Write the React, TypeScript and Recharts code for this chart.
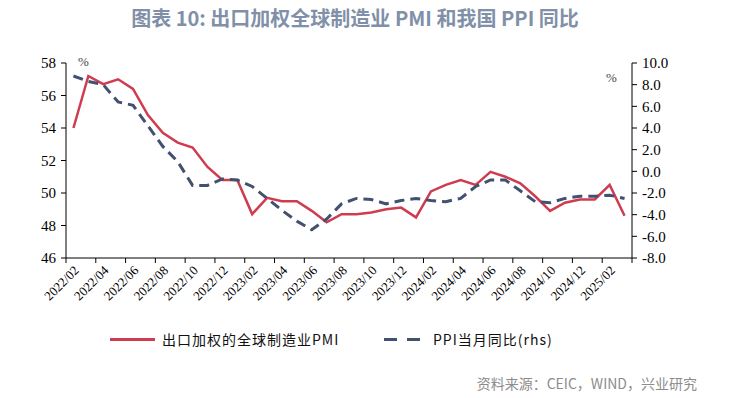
import React from 'react';
import { LineChart, Line, XAxis, YAxis } from 'recharts';

const months = [
  '2022/02', '2022/03', '2022/04', '2022/05', '2022/06', '2022/07', '2022/08', '2022/09', '2022/10', '2022/11', '2022/12',
  '2023/01', '2023/02', '2023/03', '2023/04', '2023/05', '2023/06', '2023/07', '2023/08', '2023/09', '2023/10', '2023/11', '2023/12',
  '2024/01', '2024/02', '2024/03', '2024/04', '2024/05', '2024/06', '2024/07', '2024/08', '2024/09', '2024/10', '2024/11', '2024/12',
  '2025/01', '2025/02', '2025/03',
];

const pmi = [
  54.0, 57.2, 56.7, 57.0, 56.4, 54.8, 53.7, 53.1, 52.8, 51.6, 50.8,
  50.8, 48.7, 49.7, 49.5, 49.5, 48.9, 48.2, 48.7, 48.7, 48.8, 49.0, 49.1,
  48.5, 50.1, 50.5, 50.8, 50.5, 51.3, 51.0, 50.6, 49.8, 48.9, 49.4, 49.6,
  49.6, 50.5, 48.6,
];

const ppi = [
  8.8, 8.3, 8.0, 6.4, 6.1, 4.2, 2.3, 0.9, -1.3, -1.3, -0.7,
  -0.8, -1.4, -2.5, -3.6, -4.6, -5.4, -4.4, -3.0, -2.5, -2.6, -3.0, -2.7,
  -2.5, -2.7, -2.8, -2.5, -1.4, -0.8, -0.8, -1.8, -2.8, -2.9, -2.5, -2.3,
  -2.3, -2.2, -2.5,
];

const leftTicks = [46, 48, 50, 52, 54, 56, 58];
const rightTicks = [-8, -6, -4, -2, 0, 2, 4, 6, 8, 10];

const data = months.map((m, i) => ({ i, month: m, pmi: pmi[i], ppi: ppi[i] }));
// category boundaries every two months (tick marks sit between categories)
const boundaryTicks = months.filter((_, i) => i % 2 === 0).map((_, k) => k * 2 - 0.5).concat([months.length - 0.5]);

const W = 729;
const H = 398;
const PLOT_LEFT = 66;
const PLOT_RIGHT = 632;
const HALF_BAND = (PLOT_RIGHT - PLOT_LEFT) / months.length / 2;

const RED = '#cf3c4f';
const BLUE = '#41516f';
const SERIF = "'Liberation Serif', 'Times New Roman', serif";
const CJK = "'Noto Sans CJK SC', 'Noto Sans', sans-serif";

const XTick = (props: any) => {
  const { x, y, payload } = props;
  const idx = Math.round(payload.value + 0.5);
  if (idx >= months.length) return null;
  const cx = x + HALF_BAND;
  return (
    <text
      transform={`translate(${cx + 3},${y + 2}) rotate(-45)`}
      textAnchor="end"
      dy="0.35em"
      style={{ fontFamily: SERIF, fontSize: 13 }}
      fill="#000"
    >
      {months[idx]}
    </text>
  );
};

const YTick = (props: any) => {
  const { x, y, payload, textAnchor, fmt } = props;
  return (
    <text x={x} y={y} dy="0.35em" textAnchor={textAnchor} style={{ fontFamily: SERIF, fontSize: 15 }} fill="#000">
      {fmt ? fmt(payload.value) : payload.value}
    </text>
  );
};

export default function App() {
  return (
    <div style={{ position: 'absolute', left: 0, top: 0, width: W, height: H, background: '#fff', overflow: 'hidden' }}>
      <div
        style={{
          position: 'absolute', left: 0, top: 4, width: 710, textAlign: 'center',
          fontFamily: CJK, fontWeight: 700, fontSize: 20, color: '#7f90a8', lineHeight: '28px',
        }}
      >
        图表 10: 出口加权全球制造业 PMI 和我国 PPI 同比
      </div>
      <LineChart
        width={W}
        height={H}
        data={data}
        margin={{ top: 63, right: 47, bottom: 110, left: 16 }}
        style={{ position: 'absolute', left: 0, top: 0 }}
      >
        <XAxis
          xAxisId="x"
          dataKey="i"
          type="number"
          domain={[-0.5, months.length - 0.5]}
          ticks={boundaryTicks}
          interval={0}
          height={30}
          axisLine={{ stroke: '#000', strokeWidth: 1 }}
          tickLine={{ stroke: '#000', strokeWidth: 1 }}
          tickSize={5}
          tickMargin={3}
          tick={<XTick />}
        />
        <YAxis
          yAxisId="left"
          orientation="left"
          domain={[46, 58]}
          ticks={leftTicks}
          interval={0}
          width={50}
          axisLine={{ stroke: '#000', strokeWidth: 1 }}
          tickLine={{ stroke: '#000', strokeWidth: 1 }}
          tickSize={5}
          tickMargin={5}
          tick={<YTick />}
        />
        <YAxis
          yAxisId="right"
          orientation="right"
          domain={[-8, 10]}
          ticks={rightTicks}
          interval={0}
          width={50}
          axisLine={{ stroke: '#000', strokeWidth: 1 }}
          tickLine={{ stroke: '#000', strokeWidth: 1 }}
          tickSize={5}
          tickMargin={5}
          tick={<YTick fmt={(v: number) => v.toFixed(1)} />}
        />
        <Line
          xAxisId="x"
          yAxisId="left"
          type="linear"
          dataKey="pmi"
          stroke={RED}
          strokeWidth={2.5}
          dot={false}
          activeDot={false}
          isAnimationActive={false}
        />
        <Line
          xAxisId="x"
          yAxisId="right"
          type="linear"
          dataKey="ppi"
          stroke={BLUE}
          strokeWidth={3}
          strokeDasharray="10 6"
          dot={false}
          activeDot={false}
          isAnimationActive={false}
        />
      </LineChart>
      <div style={{ position: 'absolute', left: 78, top: 54, fontFamily: SERIF, fontSize: 13, color: '#444' }}>%</div>
      <div style={{ position: 'absolute', left: 606, top: 70, fontFamily: SERIF, fontSize: 13, color: '#444' }}>%</div>
      {/* legend */}
      <div style={{ position: 'absolute', left: 110, top: 338, width: 45, height: 3, background: RED }} />
      <div style={{ position: 'absolute', left: 162, top: 329, fontFamily: CJK, fontSize: 14, color: '#111', lineHeight: '20px', letterSpacing: 1 }}>
        出口加权的全球制造业PMI
      </div>
      <div style={{ position: 'absolute', left: 384, top: 338, width: 13, height: 3, background: BLUE }} />
      <div style={{ position: 'absolute', left: 407, top: 338, width: 13, height: 3, background: BLUE }} />
      <div style={{ position: 'absolute', left: 433, top: 329, fontFamily: CJK, fontSize: 14, color: '#111', lineHeight: '20px', letterSpacing: 1 }}>
        PPI当月同比(rhs)
      </div>
      <div
        style={{
          position: 'absolute', right: 32, top: 373, fontFamily: CJK, fontSize: 14, color: '#8c8c8c', lineHeight: '20px',
        }}
      >
        资料来源：CEIC，WIND，兴业研究
      </div>
    </div>
  );
}
